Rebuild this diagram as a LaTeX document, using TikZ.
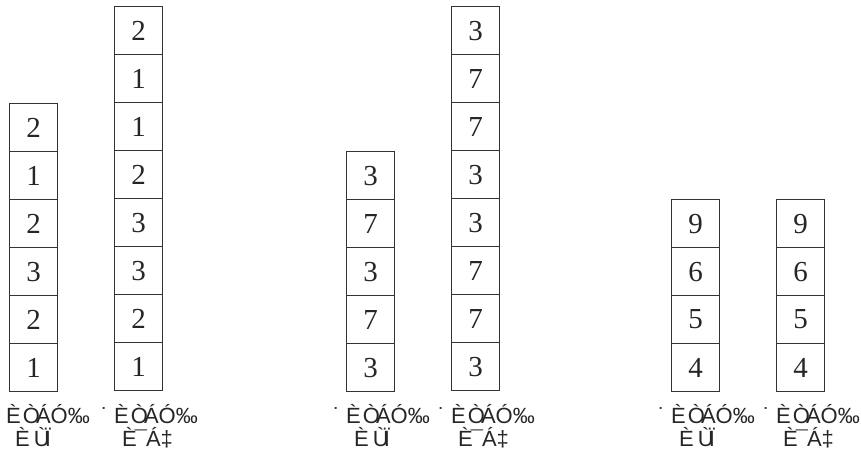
\documentclass[tikz,border=0pt]{standalone}
\usepackage{fontspec}
\setmainfont{Liberation Serif}
\newfontfamily\lblfont{Liberation Sans}
\newcommand{\lineone}{È\kern2ptÒ\kern-4ptÁÓ‰}
\newcommand{\dotone}{\makebox[14pt][l]{\hspace{1pt}˙}}
\newcommand{\linetwoa}{È\kern4ptÙ\kern-5ptÏ}
\newcommand{\linetwob}{È\kern-2pt¯\kern-1ptÁ‡}
\tikzset{
  cell/.style={draw=black!80, line width=1.1pt, minimum width=48pt, minimum height=48pt, inner sep=0pt, anchor=north west, font=\fontsize{29}{29}\selectfont, text=black!85},
  lbl/.style={anchor=base west, inner sep=0pt, font=\lblfont\fontsize{22}{22}\selectfont, text=black!85}
}
\begin{document}
\begin{tikzpicture}[x=1pt,y=-1pt]
\useasboundingbox (0,0) rectangle (861,454);
\newcommand{\column}[4]{%
  \foreach \d [count=\i from 0] in {#4} {
    \node[cell] (#1r\i) at (#2,#3+48*\i) {\d};
  }
}
\column{a}{9}{103}{2,1,2,3,2,1}
\column{b}{114}{6}{2,1,1,2,3,3,2,1}
\column{c}{346}{151}{3,7,3,7,3}
\column{d}{451}{6}{3,7,7,3,3,7,7,3}
\column{e}{671}{199}{9,6,5,4}
\column{f}{776}{199}{9,6,5,4}
% labels
\node[lbl] (la1) at (6,423) {\lineone};
\node[lbl] (la2) at (15,446) {\linetwoa};
\node[lbl] (lb1) at (100,423) {\dotone\lineone};
\node[lbl] (lb2) at (122,446) {\linetwob};
\node[lbl] (lc1) at (332,423) {\dotone\lineone};
\node[lbl] (lc2) at (354,446) {\linetwoa};
\node[lbl] (ld1) at (437,423) {\dotone\lineone};
\node[lbl] (ld2) at (458,446) {\linetwob};
\node[lbl] (le1) at (657,423) {\dotone\lineone};
\node[lbl] (le2) at (679,446) {\linetwoa};
\node[lbl] (lf1) at (762,423) {\dotone\lineone};
\node[lbl] (lf2) at (783,446) {\linetwob};
\end{tikzpicture}
\end{document}
